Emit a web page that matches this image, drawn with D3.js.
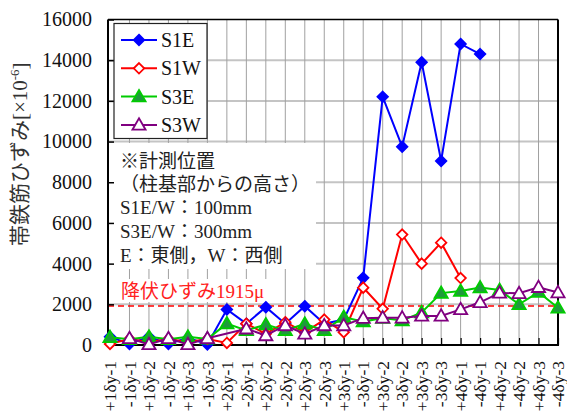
<!DOCTYPE html>
<html>
<head>
<meta charset="utf-8">
<script src="https://cdn.jsdelivr.net/npm/d3@7"></script>
<style>
  html, body { margin: 0; padding: 0; background: #fff; }
  svg { display: block; }
</style>
</head>
<body>
<svg id="chart" width="567" height="416"></svg>
<script>
// Loading cycles: +/- direction, multiple of yield displacement, cycle number
const categories = [
  "+1δy-1","-1δy-1","+1δy-2","-1δy-2","+1δy-3","-1δy-3",
  "+2δy-1","-2δy-1","+2δy-2","-2δy-2","+2δy-3","-2δy-3",
  "+3δy-1","-3δy-1","+3δy-2","-3δy-2","+3δy-3","-3δy-3",
  "+4δy-1","-4δy-1","+4δy-2","-4δy-2","+4δy-3","-4δy-3"
];

// Hoop reinforcement strain [×10^-6] per gauge (null = no reading)
const s1e = [400, 50, 400, 50, 350, 30, 1750, 1050, 1860, 1050, 1910, 1050,
             1250, 3300, 12200, 9750, 13900, 9050, 14800, 14300, null, null, null, null];
const s1w = [50, 300, 150, 300, 150, 300, 100, 1050, 550, 1120, 620, 1250,
             630, 2820, 1780, 5430, 4000, 5030, 3290, null, null, null, null, null];
const s3e = [380, 280, 400, 280, 400, 300, 1050, 720, 1000, 720, 1040, 720,
             1370, 1150, 1330, 1200, 1600, 2550, 2650, 2820, 2700, 2000, 2600, 1830];
const s3w = [null, 330, 30, 330, 30, 330, null, 800, 470, 960, 550, 960,
             960, 1320, 1340, 1340, 1430, 1430, 1750, 2100, 2560, 2540, 2840, 2580];

const yTicks = [0, 2000, 4000, 6000, 8000, 10000, 12000, 14000, 16000];
const yieldStrain = 1915;

const series = [
  { name: "S1E", values: s1e, color: "#0000ff", marker: "diamond", fill: "#0000ff" },
  { name: "S1W", values: s1w, color: "#ff0000", marker: "diamond", fill: "#ffffff" },
  { name: "S3E", values: s3e, color: "#00cc00", marker: "triangle", fill: "#1f9a3c" },
  { name: "S3W", values: s3w, color: "#800080", marker: "triangle", fill: "#ffffff" }
];

const FONT = "'Liberation Serif', 'Times New Roman', 'Noto Sans CJK JP', serif";

const svg = d3.select("#chart").style("font-family", FONT);
const plotL = 108, plotR = 558, plotT = 19.5, plotB = 345;

const x = d3.scalePoint().domain(categories).range([110, plotR]).padding(0);
const y = d3.scaleLinear().domain([0, 16000]).range([plotB, plotT]);

// grid
const grid = svg.append("g");
grid.selectAll("line.h").data(yTicks.slice(1, -1)).join("line")
  .attr("x1", plotL).attr("x2", plotR)
  .attr("y1", d => y(d)).attr("y2", d => y(d))
  .attr("stroke", "#c4c4c4").attr("stroke-width", 2);
grid.selectAll("line.v").data(categories.slice(1, -1)).join("line")
  .attr("x1", d => x(d)).attr("x2", d => x(d))
  .attr("y1", plotT).attr("y2", plotB)
  .attr("stroke", "#a0a0a0").attr("stroke-width", 1);

// white panels behind the notes
svg.append("rect").attr("x", plotL + 1).attr("y", 143).attr("width", 207).attr("height", 126).attr("fill", "#fff");
svg.append("rect").attr("x", plotL + 1).attr("y", 279).attr("width", 160).attr("height", 23).attr("fill", "#fff");

// yield strain line
svg.append("line")
  .attr("x1", plotL).attr("x2", plotR)
  .attr("y1", y(yieldStrain)).attr("y2", y(yieldStrain))
  .attr("stroke", "#ff0000").attr("stroke-width", 1.5).attr("stroke-dasharray", "6,4");

// axes
const yAxis = d3.axisLeft(y).tickValues(yTicks).tickFormat(d3.format("d"))
  .tickSizeInner(-6).tickSizeOuter(0).tickPadding(16);
const gy = svg.append("g").attr("transform", `translate(${plotL},0)`).call(yAxis)
  .attr("font-family", FONT);
gy.select(".domain").remove();
gy.selectAll(".tick line").attr("stroke", "#000").attr("stroke-width", 1.5);
gy.selectAll(".tick text").attr("font-size", 20).attr("fill", "#111");

const xAxis = d3.axisBottom(x).tickSizeInner(-7).tickSizeOuter(0);
const gx = svg.append("g").attr("transform", `translate(0,${plotB})`).call(xAxis)
  .attr("font-family", FONT);
gx.select(".domain").remove();
gx.selectAll(".tick line").attr("stroke", "#000").attr("stroke-width", 1.2);
gx.selectAll(".tick text")
  .attr("font-size", 17.5).attr("fill", "#111")
  .attr("transform", "rotate(-90)")
  .attr("text-anchor", "end")
  .attr("x", -16).attr("y", 0).attr("dy", "0.33em");

// frame
svg.append("line").attr("x1", plotL).attr("x2", plotL).attr("y1", plotT).attr("y2", plotB + 1)
  .attr("stroke", "#000").attr("stroke-width", 2);
svg.append("line").attr("x1", plotL).attr("x2", plotR + 1).attr("y1", plotB).attr("y2", plotB)
  .attr("stroke", "#000").attr("stroke-width", 2);
svg.append("line").attr("x1", plotL).attr("x2", plotR).attr("y1", plotT).attr("y2", plotT)
  .attr("stroke", "#000").attr("stroke-width", 1.5);
svg.append("line").attr("x1", plotR).attr("x2", plotR).attr("y1", plotT).attr("y2", plotB)
  .attr("stroke", "#000").attr("stroke-width", 2);

// markers
const diamond = d3.symbol().type(d3.symbolDiamond2).size(70);
const triangle = d3.symbol().type(d3.symbolTriangle).size(75);
function markerPath(s) { return s.marker === "diamond" ? diamond() : triangle(); }

// each series: line, then its markers on top
series.forEach(s => {
  const pts = categories.map((c, i) => ({ c, v: s.values[i] })).filter(p => p.v != null);
  const line = d3.line().x(p => x(p.c)).y(p => y(p.v));
  const g = svg.append("g");
  g.append("path").datum(pts).attr("d", line)
    .attr("fill", "none").attr("stroke", s.color).attr("stroke-width", 2);
  g.selectAll("path.m").data(pts).join("path")
    .attr("class", "m")
    .attr("d", markerPath(s))
    .attr("transform", p => `translate(${x(p.c)},${y(p.v) + (s.marker === "triangle" ? 1 : 0)})`)
    .attr("fill", s.fill).attr("stroke", s.color).attr("stroke-width", 1.8);
});

// legend
const lg = svg.append("g");
lg.append("rect").attr("x", 114).attr("y", 23.5).attr("width", 93).attr("height", 115)
  .attr("fill", "#fff").attr("stroke", "#222").attr("stroke-width", 1.2);
series.forEach((s, i) => {
  const cy = 40 + i * 28.3;
  lg.append("line").attr("x1", 121).attr("x2", 157).attr("y1", cy).attr("y2", cy)
    .attr("stroke", s.color).attr("stroke-width", 2);
  lg.append("path").attr("d", markerPath(s))
    .attr("transform", `translate(139,${cy + (s.marker === "triangle" ? 1 : 0)})`)
    .attr("fill", s.fill).attr("stroke", s.color).attr("stroke-width", 1.8);
  lg.append("text").attr("x", 161).attr("y", cy).attr("dy", "0.35em")
    .attr("font-size", 20).attr("fill", "#111").text(s.name);
});

// notes on gauge positions
const notes = ["※計測位置", "（柱基部からの高さ）", "S1E/W：100mm", "S3E/W：300mm", "E：東側，W：西側"];
const noteY = [161.5, 184.5, 207, 231, 255];
svg.append("g").selectAll("text").data(notes).join("text")
  .attr("x", 120).attr("y", (d, i) => noteY[i]).attr("dy", "0.35em")
  .attr("font-size", 19).attr("fill", "#222").text(d => d);

svg.append("text").attr("x", 121).attr("y", 291).attr("dy", "0.35em")
  .attr("font-size", 19).attr("fill", "#ff2020").text("降伏ひずみ" + yieldStrain + "μ");

// y axis title
const title = svg.append("text")
  .attr("transform", `translate(27,${(plotT + plotB) / 2 - 28}) rotate(-90)`)
  .attr("text-anchor", "middle").attr("font-size", 21).attr("fill", "#333")
  .style("font-family", FONT);
title.append("tspan").text("帯鉄筋ひずみ[×10");
title.append("tspan").attr("dy", -8).attr("font-size", 13).text("-6");
title.append("tspan").attr("dy", 8).text("]");
</script>
</body>
</html>
